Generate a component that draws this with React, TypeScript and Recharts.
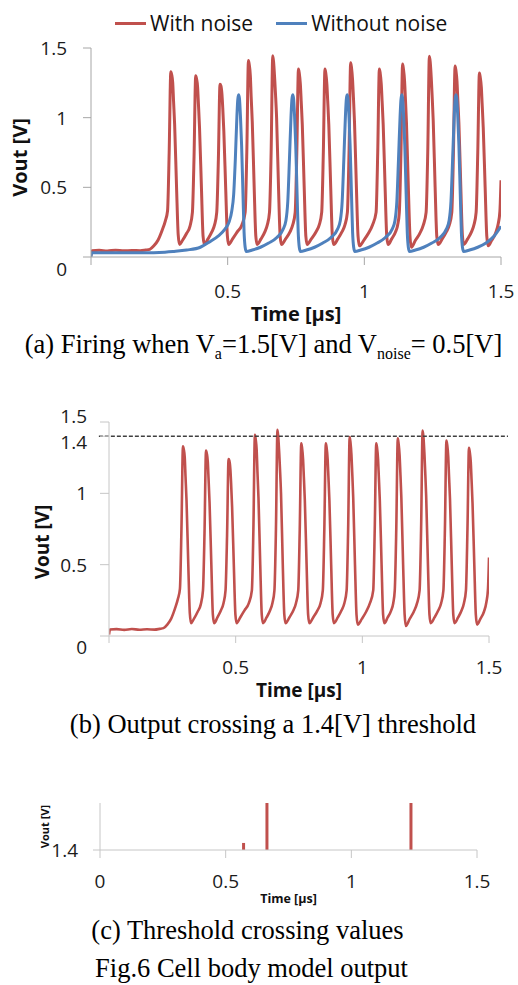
import React from 'react';
import { LineChart, Line, XAxis, YAxis, Legend, ReferenceLine, ComposedChart, Bar } from 'recharts';

const SANS = '"Open Sans", "Liberation Sans", sans-serif';
const SERIF = '"Liberation Serif", "Times New Roman", serif';
const RED = '#C0504D';
const BLUE = '#4F81BD';
const AX_A = '#a6a6a6';
const AX_B = '#c6c6c6';

// ---- data ----
const timeTicks = [0, 0.5, 1, 1.5];
const voutTicksA = [0, 0.5, 1, 1.5];
const voutTicksB = [0, 0.5, 1, 1.4, 1.5];
const voutTicksC = [1.4];
const threshold = 1.4;
const thresholdSpan = [-0.04, 1.575];

// Vout with noise: [time µs, V]
const noiseTrace: [number, number][] = [
  [0.0, 0.01], [0.004, 0.045], [0.03, 0.048], [0.06, 0.043], [0.09, 0.049], [0.12, 0.044],
  [0.15, 0.047], [0.18, 0.045], [0.2, 0.05], [0.215, 0.055], [0.23, 0.08], [0.245, 0.12],
  [0.26, 0.19], [0.272, 0.26], [0.28, 0.33], [0.286, 0.75],
  [0.292, 1.33], [0.295, 1.31], [0.299, 1.25], [0.302, 1.12], [0.306, 0.95], [0.313, 0.5], [0.319, 0.16], [0.324, 0.09],
  [0.335, 0.12], [0.35, 0.17], [0.362, 0.22], [0.371, 0.32], [0.377, 0.72],
  [0.383, 1.3], [0.386, 1.28], [0.39, 1.22], [0.393, 1.1], [0.397, 0.93], [0.404, 0.5], [0.41, 0.15], [0.415, 0.09],
  [0.428, 0.13], [0.442, 0.18], [0.452, 0.23], [0.46, 0.32], [0.466, 0.7],
  [0.472, 1.24], [0.475, 1.23], [0.479, 1.17], [0.482, 1.07], [0.486, 0.9], [0.493, 0.48], [0.499, 0.15], [0.504, 0.09],
  [0.518, 0.13], [0.535, 0.18], [0.552, 0.23], [0.564, 0.32], [0.57, 0.75],
  [0.576, 1.41], [0.579, 1.38], [0.583, 1.3], [0.586, 1.15], [0.59, 0.97], [0.597, 0.5], [0.603, 0.15], [0.608, 0.09],
  [0.622, 0.13], [0.636, 0.18], [0.645, 0.23], [0.653, 0.32], [0.659, 0.75],
  [0.665, 1.445], [0.668, 1.4], [0.672, 1.28], [0.675, 1.17], [0.679, 1.0], [0.686, 0.5], [0.692, 0.15], [0.697, 0.09],
  [0.712, 0.13], [0.728, 0.18], [0.738, 0.23], [0.747, 0.32], [0.753, 0.75],
  [0.759, 1.35], [0.762, 1.32], [0.766, 1.24], [0.769, 1.12], [0.773, 0.95], [0.78, 0.5], [0.786, 0.15], [0.791, 0.09],
  [0.806, 0.13], [0.823, 0.18], [0.835, 0.23], [0.844, 0.32], [0.85, 0.75],
  [0.856, 1.35], [0.859, 1.32], [0.863, 1.24], [0.866, 1.12], [0.87, 0.95], [0.877, 0.5], [0.883, 0.15], [0.888, 0.09],
  [0.903, 0.13], [0.918, 0.18], [0.929, 0.23], [0.938, 0.32], [0.944, 0.75],
  [0.95, 1.395], [0.953, 1.36], [0.957, 1.27], [0.96, 1.15], [0.964, 0.97], [0.971, 0.5], [0.977, 0.15], [0.982, 0.08],
  [0.998, 0.12], [1.015, 0.17], [1.03, 0.23], [1.043, 0.32], [1.049, 0.75],
  [1.055, 1.35], [1.058, 1.32], [1.062, 1.24], [1.065, 1.12], [1.069, 0.95], [1.076, 0.5], [1.082, 0.15], [1.087, 0.09],
  [1.1, 0.13], [1.114, 0.18], [1.122, 0.23], [1.128, 0.32], [1.134, 0.75],
  [1.14, 1.385], [1.143, 1.35], [1.147, 1.27], [1.15, 1.15], [1.154, 0.97], [1.161, 0.5], [1.167, 0.15], [1.172, 0.07],
  [1.187, 0.12], [1.203, 0.17], [1.216, 0.23], [1.226, 0.32], [1.232, 0.75],
  [1.238, 1.44], [1.241, 1.4], [1.245, 1.28], [1.248, 1.16], [1.252, 0.98], [1.259, 0.5], [1.265, 0.15], [1.27, 0.09],
  [1.285, 0.13], [1.3, 0.18], [1.311, 0.23], [1.32, 0.32], [1.326, 0.75],
  [1.332, 1.37], [1.335, 1.34], [1.339, 1.26], [1.342, 1.13], [1.346, 0.96], [1.353, 0.5], [1.359, 0.15], [1.364, 0.09],
  [1.378, 0.13], [1.392, 0.18], [1.401, 0.23], [1.409, 0.32], [1.415, 0.75],
  [1.421, 1.32], [1.424, 1.29], [1.428, 1.22], [1.431, 1.1], [1.435, 0.93], [1.442, 0.5], [1.448, 0.15], [1.453, 0.08],
  [1.466, 0.12], [1.48, 0.17], [1.49, 0.24], [1.496, 0.33], [1.5, 0.55],
];

// Vout without noise: [time µs, V]
const cleanTrace: [number, number][] = [
  [0.0, 0.0], [0.002, 0.03], [0.1, 0.03], [0.2, 0.031], [0.25, 0.033], [0.3, 0.04], [0.35, 0.05],
  [0.4, 0.07], [0.435, 0.11], [0.465, 0.15], [0.49, 0.2], [0.505, 0.25], [0.515, 0.33], [0.522, 0.45],
  [0.528, 0.7], [0.534, 1.02], [0.537, 1.13], [0.54, 1.165], [0.543, 1.14], [0.547, 1.0], [0.551, 0.8],
  [0.556, 0.45], [0.56, 0.18], [0.564, 0.07], [0.568, 0.04],
  [0.59, 0.05], [0.62, 0.07], [0.65, 0.1], [0.68, 0.14], [0.703, 0.2], [0.713, 0.26], [0.72, 0.4],
  [0.726, 0.7], [0.732, 1.02], [0.735, 1.13], [0.738, 1.165], [0.741, 1.14], [0.745, 1.0], [0.749, 0.8],
  [0.754, 0.45], [0.758, 0.18], [0.762, 0.07], [0.766, 0.04],
  [0.788, 0.05], [0.818, 0.07], [0.848, 0.1], [0.878, 0.14], [0.902, 0.2], [0.912, 0.26], [0.919, 0.4],
  [0.925, 0.7], [0.931, 1.02], [0.934, 1.13], [0.937, 1.165], [0.94, 1.14], [0.944, 1.0], [0.948, 0.8],
  [0.953, 0.45], [0.957, 0.18], [0.961, 0.07], [0.965, 0.04],
  [0.987, 0.05], [1.017, 0.07], [1.047, 0.1], [1.077, 0.14], [1.102, 0.2], [1.112, 0.26], [1.119, 0.4],
  [1.125, 0.7], [1.131, 1.02], [1.134, 1.13], [1.137, 1.165], [1.14, 1.14], [1.144, 1.0], [1.148, 0.8],
  [1.153, 0.45], [1.157, 0.18], [1.161, 0.07], [1.165, 0.04],
  [1.187, 0.05], [1.217, 0.07], [1.247, 0.1], [1.277, 0.14], [1.3, 0.2], [1.31, 0.26], [1.317, 0.4],
  [1.323, 0.7], [1.329, 1.02], [1.332, 1.13], [1.335, 1.165], [1.338, 1.14], [1.342, 1.0], [1.346, 0.8],
  [1.351, 0.45], [1.355, 0.18], [1.359, 0.07], [1.363, 0.04],
  [1.385, 0.05], [1.415, 0.07], [1.445, 0.1], [1.475, 0.15], [1.5, 0.22],
];

// Threshold crossings
const crossTimes = [0.572, 0.665, 1.238];
const crossValues = [1.406, 1.44, 1.44];

const noiseData = noiseTrace.map(([t, v]) => ({ t, v }));
const cleanData = cleanTrace.map(([t, v]) => ({ t, v }));
const crossData = crossTimes.map((t, i) => ({ t, v: crossValues[i] }));

// ---- renderers ----
function yTick(fontSize: number, shifts: Record<string, number>) {
  return (p: any) => (
    <text
      x={p.x}
      y={p.y + (shifts[String(p.payload.value)] || 0)}
      dy="0.36em"
      textAnchor="end"
      fontSize={fontSize}
      fontFamily={SANS}
      fill="#1b1b1b"
    >
      {String(p.payload.value)}
    </text>
  );
}

function xTick(fontSize: number, showZero: boolean) {
  return (p: any) =>
    p.payload.value === 0 && !showZero ? (
      <g />
    ) : (
      <text x={p.x} y={p.y} dy="0.71em" textAnchor="middle" fontSize={fontSize} fontFamily={SANS} fill="#1b1b1b">
        {String(p.payload.value)}
      </text>
    );
}

function vLabel(text: string, x: number, dyc: number, fontSize: number) {
  return (p: any) => {
    const vb = p.viewBox || { x: 0, y: 0, width: 0, height: 0 };
    const cy = vb.y + vb.height / 2 + dyc;
    return (
      <text
        x={x}
        y={cy}
        dy="0.36em"
        transform={`rotate(-90 ${x} ${cy})`}
        textAnchor="middle"
        fontSize={fontSize}
        fontWeight={700}
        fontFamily={SANS}
        fill="#111"
      >
        {text}
      </text>
    );
  };
}

function hLabel(text: string, baseline: number, fontSize: number) {
  return (p: any) => {
    const vb = p.viewBox || { x: 0, y: 0, width: 0, height: 0 };
    return (
      <text
        x={vb.x + vb.width / 2}
        y={baseline}
        textAnchor="middle"
        fontSize={fontSize}
        fontWeight={700}
        fontFamily={SANS}
        fill="#111"
      >
        {text}
      </text>
    );
  };
}

const legendContent = (p: any) => (
  <div
    style={{
      display: 'flex',
      alignItems: 'center',
      fontFamily: SANS,
      fontSize: 21,
      lineHeight: '24px',
      color: '#111',
      whiteSpace: 'nowrap',
    }}
  >
    {(p.payload || []).map((e: any, i: number) => (
      <div key={i} style={{ display: 'flex', alignItems: 'center', marginRight: i === 0 ? 23 : 0 }}>
        <span style={{ display: 'inline-block', width: 31, height: 3, background: e.color, marginRight: 4 }} />
        <span>{e.value}</span>
      </div>
    ))}
  </div>
);

export default function App() {
  return (
    <div style={{ position: 'absolute', left: 0, top: 0, width: 518, height: 985, background: '#fff' }}>
      {/* (a) */}
      <div style={{ position: 'absolute', left: 0, top: 0 }}>
        <LineChart width={518} height={330} margin={{ top: 48, right: 17, bottom: 8, left: 0 }}>
          <XAxis
            type="number"
            dataKey="t"
            domain={[0, 1.5]}
            ticks={timeTicks}
            interval={0}
            allowDataOverflow
            height={65}
            tickSize={8}
            tickMargin={20}
            axisLine={{ stroke: AX_A }}
            tickLine={{ stroke: AX_A }}
            tick={xTick(19, false)}
            label={hLabel('Time [µs]', 321, 20)}
          />
          <YAxis
            type="number"
            domain={[0, 1.5]}
            ticks={voutTicksA}
            interval={0}
            allowDataOverflow
            width={91}
            tickSize={8}
            tickMargin={16}
            axisLine={{ stroke: AX_A }}
            tickLine={{ stroke: AX_A }}
            tick={yTick(19, { '0': 12 })}
            label={vLabel('Vout [V]', 20, 5, 20)}
          />
          <Legend
            verticalAlign="middle"
            align="center"
            layout="horizontal"
            wrapperStyle={{ top: 11, left: 115, width: 'auto', height: 24 }}
            content={legendContent}
          />
          <Line data={noiseData} dataKey="v" name="With noise" type="monotone" stroke={RED} strokeWidth={3} dot={false} isAnimationActive={false} />
          <Line data={cleanData} dataKey="v" name="Without noise" type="monotone" stroke={BLUE} strokeWidth={3} dot={false} isAnimationActive={false} />
        </LineChart>
      </div>

      {/* (b) */}
      <div style={{ position: 'absolute', left: 0, top: 380 }}>
        <LineChart width={518} height={330} margin={{ top: 42, right: 29, bottom: 12, left: 0 }}>
          <XAxis
            type="number"
            dataKey="t"
            domain={[0, 1.5]}
            ticks={timeTicks}
            interval={0}
            allowDataOverflow
            height={62}
            tickSize={7}
            tickMargin={18}
            axisLine={{ stroke: AX_B }}
            tickLine={{ stroke: AX_B }}
            tick={xTick(19, false)}
            label={hLabel('Time [µs]', 317, 19)}
          />
          <YAxis
            type="number"
            domain={[0, 1.5]}
            ticks={voutTicksB}
            interval={0}
            allowDataOverflow
            width={109}
            tickSize={9}
            tickMargin={13}
            axisLine={{ stroke: AX_B }}
            tickLine={{ stroke: AX_B }}
            tick={yTick(19, { '0': 11, '1.4': 6, '1.5': -6 })}
            label={vLabel('Vout [V]', 42, 13, 19)}
          />
          <Line data={noiseData} dataKey="v" name="With noise" type="monotone" stroke={RED} strokeWidth={2.6} dot={false} isAnimationActive={false} />
          <ReferenceLine
            segment={[
              { x: thresholdSpan[0], y: threshold },
              { x: thresholdSpan[1], y: threshold },
            ]}
            ifOverflow="visible"
            stroke="#404040"
            strokeWidth={1.5}
            strokeDasharray="4 2"
          />
        </LineChart>
      </div>

      {/* (c) */}
      <div style={{ position: 'absolute', left: 0, top: 760 }}>
        <ComposedChart width={518} height={150} data={crossData} margin={{ top: 43, right: 41, bottom: 8, left: 0 }}>
          <XAxis
            type="number"
            dataKey="t"
            domain={[0, 1.5]}
            ticks={timeTicks}
            interval={0}
            allowDataOverflow
            height={52}
            tickSize={8}
            tickMargin={17}
            axisLine={{ stroke: AX_B }}
            tickLine={{ stroke: AX_B }}
            tick={xTick(19, true)}
            label={hLabel('Time [µs]', 142.5, 12.5)}
          />
          <YAxis
            type="number"
            domain={[1.4, 1.44]}
            ticks={voutTicksC}
            interval={0}
            allowDataOverflow
            width={100}
            tickSize={7}
            tickMargin={15}
            axisLine={{ stroke: AX_B }}
            tickLine={{ stroke: AX_B }}
            tick={yTick(19, {})}
            label={vLabel('Vout [V]', 45, 0, 11)}
          />
          <Bar dataKey="v" barSize={3} fill={RED} isAnimationActive={false} />
        </ComposedChart>
      </div>

      {/* captions */}
      <svg width={518} height={985} style={{ position: 'absolute', left: 0, top: 0, pointerEvents: 'none' }}>
        <g fontFamily={SERIF} fontSize={26.5} fill="#000" textAnchor="middle">
          <text x={263.5} y={353}>
            (a) Firing when V<tspan fontSize={16} dy={6}>a</tspan>
            <tspan dy={-6}>=1.5[V] and V</tspan>
            <tspan fontSize={16} dy={6}>noise</tspan>
            <tspan dy={-6}>= 0.5[V]</tspan>
          </text>
          <text x={273} y={733}>(b) Output crossing a 1.4[V] threshold</text>
          <text x={247.5} y={939}>(c) Threshold crossing values</text>
          <text x={251.5} y={977}>Fig.6 Cell body model output</text>
        </g>
      </svg>
    </div>
  );
}
